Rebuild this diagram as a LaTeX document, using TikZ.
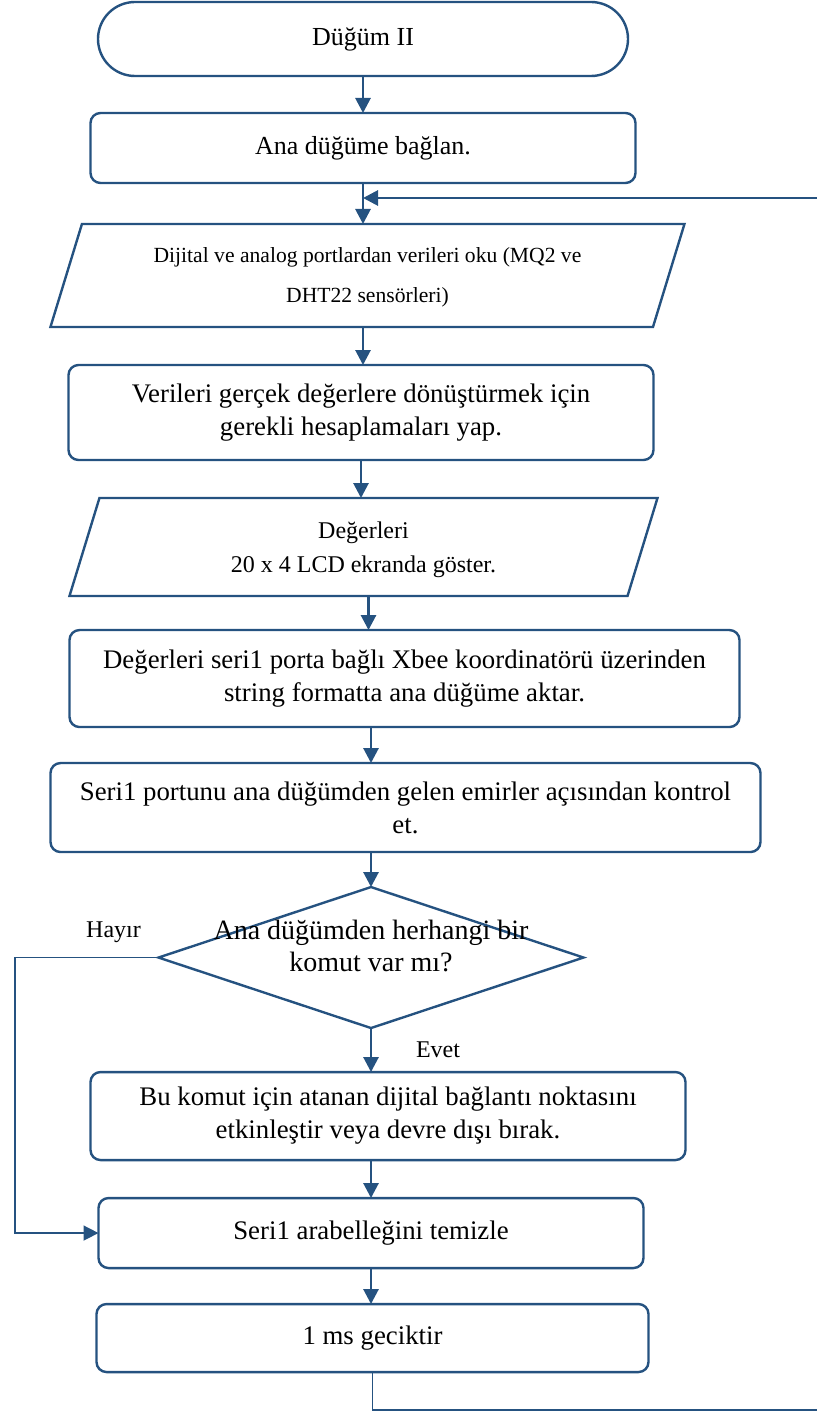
\documentclass[tikz,border=0pt]{standalone}
\usepackage{fontspec}
\setmainfont{Liberation Serif}
\usetikzlibrary{positioning, shapes.geometric, arrows.meta}
\definecolor{flowblue}{RGB}{37,82,128}
\tikzset{
flow/.style={draw=flowblue, line width=1.4pt, -{Triangle[length=7.5pt,width=7.5pt]}}, % arrows between the steps
backline/.style={draw=flowblue, line width=0.8pt}, % thin lines that run round the chart
every node/.style={outer sep=0pt}, % gaps are measured from the drawn border
terminal/.style={draw=flowblue, line width=1.2pt, rounded corners=18.5pt, minimum width=265pt, minimum height=37pt, font=\fontsize{13}{16.5}\selectfont}, % start of the chart
process/.style={draw=flowblue, line width=1.2pt, rounded corners=5pt, align=center, font=\fontsize{13.4}{16.5}\selectfont}, % the work steps
io/.style={draw=flowblue, line width=1.2pt, trapezium, trapezium stretches body, trapezium left angle=73, trapezium right angle=107, inner ysep=0pt, align=center}, % read and show steps
decision/.style={draw=flowblue, line width=1.2pt, diamond, inner sep=0pt, align=center, font=\fontsize{14}{16}\selectfont}, % the question
answer/.style={font=\fontsize{12}{14}\selectfont}, % yes / no labels
}

\begin{document}
\begin{tikzpicture}
    \useasboundingbox (0,0) rectangle (408.5pt,-706pt);

    \node[terminal] (start) at (181.5pt,-19.5pt) {Düğüm II};
    \node[process, font=\fontsize{13}{16.5}\selectfont, minimum width=272.5pt, minimum height=35pt, below=18.5pt of start] (connect) {Ana düğüme bağlan.};
    \node[io, minimum width=317pt, minimum height=51.5pt, text height=39.25pt, text depth=12.25pt,
          font=\fontsize{10.8}{20}\selectfont, below=20.5pt of connect, xshift=2.25pt] (readdata)
          {Dijital ve analog portlardan verileri oku (MQ2 ve\\DHT22 sensörleri)};
    \node[process, minimum width=292.5pt, minimum height=47.5pt, below=19pt of readdata, xshift=-3.25pt] (calc)
          {Verileri gerçek değerlere dönüştürmek için\\gerekli hesaplamaları yap.};
    \node[io, minimum width=294pt, minimum height=49pt, text height=37pt, text depth=12pt,
          font=\fontsize{12}{17}\selectfont, below=19pt of calc, xshift=1.25pt] (showlcd)
          {Değerleri\\20 x 4 LCD ekranda göster.};
    \node[process, minimum width=335pt, minimum height=48.5pt, below=17pt of showlcd, xshift=20.5pt] (sendxbee)
          {Değerleri seri1 porta bağlı Xbee koordinatörü üzerinden\\string formatta ana düğüme aktar.};
    \node[process, minimum width=355pt, minimum height=44.5pt, below=18pt of sendxbee, xshift=0.5pt] (checkport)
          {Seri1 portunu ana düğümden gelen emirler açısından kontrol\\et.};
    \node[decision, minimum width=212.5pt, minimum height=70.5pt, text depth=12pt, below=17.5pt of checkport, xshift=-17.25pt] (anycmd)
          {\makebox[0pt]{Ana düğümden herhangi bir}\\\makebox[0pt]{komut var mı?}};
    \node[process, minimum width=297.5pt, minimum height=44pt, below=22pt of anycmd, xshift=8.5pt] (setpin)
          {Bu komut için atanan dijital bağlantı noktasını\\etkinleştir veya devre dışı bırak.};
    \node[process, minimum width=272.5pt, minimum height=35pt, below=19pt of setpin, xshift=-8.5pt] (clearbuf)
          {Seri1 arabelleğini temizle};
    \node[process, minimum width=276pt, minimum height=34pt, below=18pt of clearbuf, xshift=0.75pt] (delay)
          {1 ms geciktir};

    \node[answer] (no) at ([xshift=-22.5pt,yshift=12.5pt]anycmd.west) {Hayır};
    \node[answer] (yes) at ([xshift=33.5pt,yshift=-11pt]anycmd.south) {Evet};

    % corners of the lines round the chart
    \coordinate (leftrail) at (7.5pt,0);
    \coordinate (loopcorner) at (409.5pt,-705pt);
    \coordinate (loopin) at (409.5pt,-99pt);

    \draw[flow] (start.south) -- (start.south |- connect.north);
    \draw[flow] (connect.south) -- (connect.south |- readdata.north);
    \draw[flow] (connect.south |- readdata.south) -- (connect.south |- calc.north);
    \draw[flow] (calc.south) -- (calc.south |- showlcd.north);
    \draw[flow] ([xshift=2.5pt]showlcd.south) -- ([xshift=2.5pt]showlcd.south |- sendxbee.north);
    \draw[flow] (anycmd.north |- sendxbee.south) -- (anycmd.north |- checkport.north);
    \draw[flow] (anycmd.north |- checkport.south) -- (anycmd.north);
    \draw[flow] (anycmd.south) -- (anycmd.south |- setpin.north);
    \draw[flow] (anycmd.south |- setpin.south) -- (anycmd.south |- clearbuf.north);
    \draw[flow] (clearbuf.south) -- (clearbuf.south |- delay.north);

    \draw[backline, -{Triangle[length=7.5pt,width=7.5pt]}] (anycmd.west) -| (leftrail |- clearbuf.west) -- (clearbuf.west);
    \draw[backline] (delay.south) |- (loopcorner) -- (loopin);
    \draw[flow] (loopin) -- (connect.south |- loopin);

\end{tikzpicture}
\end{document}
